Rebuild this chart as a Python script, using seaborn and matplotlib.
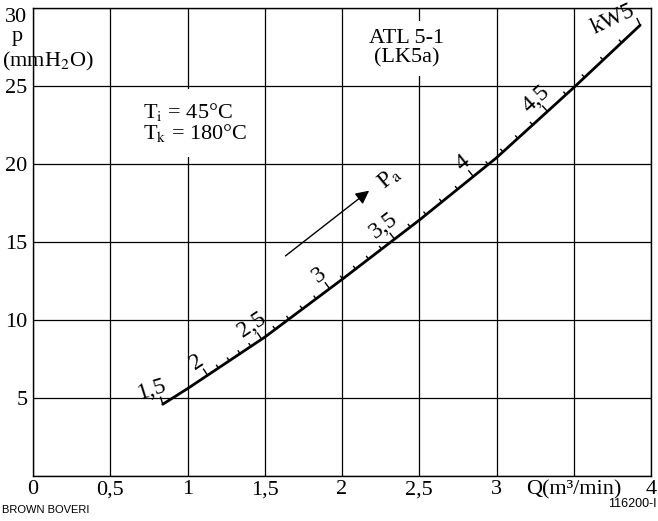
import numpy as np
import seaborn as sns
import matplotlib.pyplot as plt

# characteristic curve: Q (m3/min) vs p (mmH2O)
q_curve = [0.84, 1.0, 1.5, 2.0, 2.5, 3.0, 3.5, 3.93]
p_curve = [4.6, 5.6, 8.9, 12.6, 16.4, 20.4, 24.9, 28.9]

# power scale along the curve (kW) and where each mark sits in Q
kw_major = [1.5, 2, 2.5, 3, 3.5, 4, 4.5, 5]
q_major = [0.84, 1.13, 1.48, 1.92, 2.34, 2.85, 3.33, 3.93]
kw_labels = ['1,5', '2', '2,5', '3', '3,5', '4', '4,5', 'kW5']
kw_minor = [2.1, 2.2, 2.3, 2.4, 2.6, 2.7, 2.8, 2.9, 3.1, 3.2, 3.3, 3.4,
            3.6, 3.7, 3.8, 3.9, 4.1, 4.2, 4.3, 4.4, 4.6, 4.7, 4.8, 4.9]

x_ticks = [0, 0.5, 1, 1.5, 2, 2.5, 3, 3.5, 4]
x_labels = ['0', '0,5', '1', '1,5', '2', '2,5', '3', 'Q(m³/min)', '4']
y_ticks = [0, 5, 10, 15, 20, 25, 30]
y_labels = ['', '5', '10', '15', '20', '25', '30']

sns.set_theme(style='white')
plt.rcParams['font.family'] = ['Liberation Serif', 'DejaVu Serif']
plt.rcParams['mathtext.fontset'] = 'stix'
plt.rcParams['text.color'] = 'black'

fig = plt.figure(figsize=(6.58, 5.21), dpi=100)
ax = fig.add_axes([33 / 658, 1 - 476 / 521, 618 / 658, 468 / 521])

ax.set_xlim(0, 4)
ax.set_ylim(0, 30)
ax.set_xticks(x_ticks)
ax.set_xticklabels(x_labels)
ax.set_yticks(y_ticks)
ax.set_yticklabels(y_labels)
ax.yaxis.get_ticklabels()[-1].set_verticalalignment('top')
ax.tick_params(axis='both', length=0, labelsize=16, colors='black')
ax.tick_params(axis='y', pad=4)
ax.tick_params(axis='x', pad=3)
ax.grid(True, color='black', linewidth=0.9)
ax.set_axisbelow(True)
for s in ax.spines.values():
    s.set_color('black')
    s.set_linewidth(1.0)

sns.lineplot(x=q_curve, y=p_curve, color='black', linewidth=2.0, ax=ax,
             zorder=5)


# ticks and labels along the curve, done in pixel space
def disp(q):
    return ax.transData.transform((q, np.interp(q, q_curve, p_curve)))


def frame(q):
    a = disp(q - 0.01)
    b = disp(q + 0.01)
    t = (b - a) / np.hypot(*(b - a))
    n = np.array([-t[1], t[0]])
    return disp(q), t, n


inv = ax.transData.inverted()


def tick(q, length):
    d, t, n = frame(q)
    pts = inv.transform([d, d + n * length])
    ax.plot(pts[:, 0], pts[:, 1], color='black', lw=1.0,
            solid_capstyle='butt', zorder=5)


for q in np.interp(kw_minor, kw_major, q_major):
    tick(q, 4)

label_shift = [-6, -2, 0, 0, 0, 0, 0, -22]
for q, lab, sh in zip(q_major, kw_labels, label_shift):
    tick(q, 8)
    d, t, n = frame(q)
    pos = inv.transform(d + n * 17 + t * sh)
    ang = np.degrees(np.arctan2(t[1], t[0]))
    ax.text(pos[0], pos[1], lab, rotation=ang, rotation_mode='anchor',
            ha='center', va='center', fontsize=17, zorder=6)

# flow direction arrow
ax.annotate('', xy=(2.19, 18.4), xytext=(1.62, 14.0),
            arrowprops=dict(arrowstyle='-|>', color='black', lw=1.0,
                            mutation_scale=20))
ax.text(2.31, 19.1, r'P$_\mathrm{a}$', rotation=40, rotation_mode='anchor',
        ha='center', va='center', fontsize=17)

ax.text(2.42, 27.4, 'ATL 5-1\n(LK5a)', ha='center', va='center',
        fontsize=16, linespacing=1.0, zorder=4,
        bbox=dict(facecolor='white', edgecolor='none', pad=6))
ax.text(0.71, 22.65, 'T$_\\mathrm{i}$ = 45°C\nT$_\\mathrm{k}$ = 180°C',
        ha='left', va='center', fontsize=16, linespacing=0.95, zorder=4,
        bbox=dict(facecolor='white', edgecolor='none', pad=9))

# axis title in the top-left corner
fig.text(17 / 658, 1 - 37 / 521, 'p', ha='center', va='center', fontsize=16)
fig.text(2 / 658, 1 - 61 / 521, '(mmH$_2$O)', ha='left', va='center',
         fontsize=16)

fig.text(2 / 658, 1 - 510 / 521, 'BROWN BOVERI', ha='left', va='center',
         fontsize=8, family='Liberation Sans')
fig.text(657 / 658, 1 - 504 / 521, '116200-I', ha='right', va='center',
         fontsize=9, family='Liberation Sans')

fig.savefig('out.png', dpi=100)
